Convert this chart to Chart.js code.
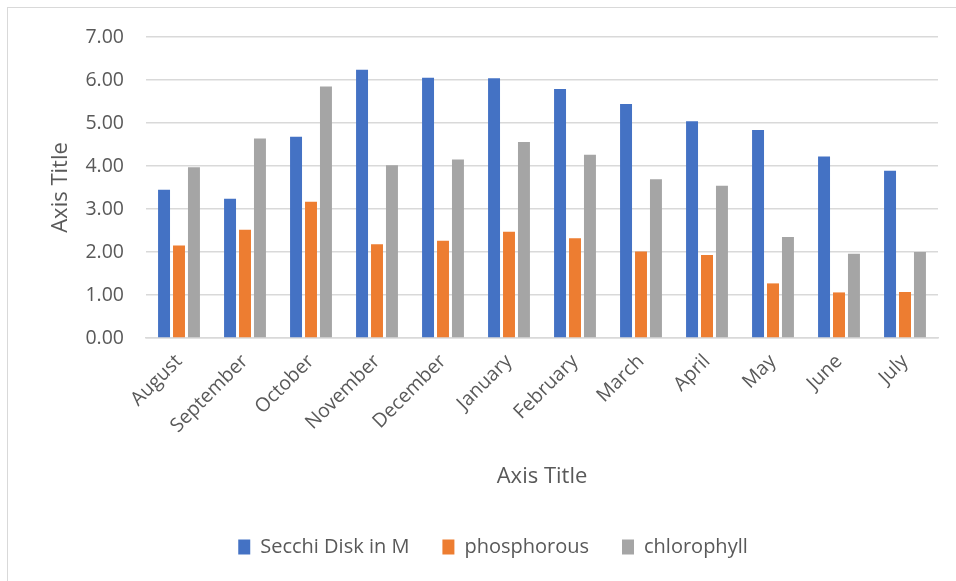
<!DOCTYPE html>
<html>
<head>
<meta charset="utf-8">
<script src="https://cdn.jsdelivr.net/npm/chart.js@4/dist/chart.umd.min.js"></script>
<style>
  html, body { margin: 0; padding: 0; background: #fff; }
  #wrap { position: relative; width: 956px; height: 581px; overflow: hidden; }
  #frame { position: absolute; left: 7px; top: 7px; width: 1000px; height: 700px; border: 1px solid #d9d9d9; box-sizing: border-box; }
  canvas { position: absolute; left: 0; top: 0; }
</style>
</head>
<body>
<div id="wrap">
  <div id="frame"></div>
  <canvas id="bar-chart" width="956" height="581"></canvas>
</div>
<script>
var months = ['August', 'September', 'October', 'November', 'December', 'January', 'February', 'March', 'April', 'May', 'June', 'July'];
var secchi = [3.45, 3.24, 4.68, 6.24, 6.05, 6.04, 5.79, 5.44, 5.04, 4.84, 4.22, 3.89];
var phosphorous = [2.15, 2.52, 3.17, 2.18, 2.26, 2.47, 2.32, 2.01, 1.93, 1.27, 1.06, 1.07];
var chlorophyll = [3.97, 4.64, 5.85, 4.02, 4.15, 4.56, 4.26, 3.69, 3.54, 2.35, 1.96, 2.00];

var font = "'Open Sans', 'Liberation Sans', sans-serif";
var grey = '#595959';

new Chart(document.getElementById('bar-chart'), {
  type: 'bar',
  data: {
    labels: months,
    datasets: [{
        label: 'Secchi Disk in M',
        data: secchi,
        backgroundColor: '#4472c4'
      }, {
        label: 'phosphorous',
        data: phosphorous,
        backgroundColor: '#ed7d31'
      }, {
        label: 'chlorophyll',
        data: chlorophyll,
        backgroundColor: '#a5a5a5'
      }]
  },
  options: {
    responsive: false,
    animation: false,
    datasets: {
      bar: { categoryPercentage: 0.68, barPercentage: 0.8 }
    },
    layout: {
      padding: { left: 48, right: 18, top: 37, bottom: 14 }
    },
    plugins: {
      legend: {
        position: 'bottom',
        labels: {
          color: grey,
          font: { family: font, size: 20 },
          boxWidth: 12,
          boxHeight: 15,
          padding: 33
        }
      },
      tooltip: { enabled: false }
    },
    scales: {
      x: {
        grid: { display: false },
        border: { display: true, color: '#d9d9d9', width: 1.5 },
        ticks: {
          color: grey,
          font: { family: font, size: 19.5 },
          minRotation: 45,
          maxRotation: 45,
          padding: 4
        },
        title: {
          display: true,
          text: 'Axis Title',
          color: grey,
          font: { family: font, size: 22 },
          padding: { top: 10, bottom: 14 }
        },
        afterFit: function(scale) { scale.height = 166; }
      },
      y: {
        min: 0,
        max: 7,
        ticks: {
          stepSize: 1,
          color: grey,
          font: { family: font, size: 19.5 },
          padding: 22,
          callback: function(v) { return v.toFixed(2); }
        },
        grid: { color: '#d9d9d9', lineWidth: 1.5, drawTicks: false },
        border: { display: false },
        title: {
          display: true,
          text: 'Axis Title',
          color: grey,
          font: { family: font, size: 22 },
          padding: { top: 0, bottom: 8 }
        },
        afterFit: function(scale) { scale.width = 98; }
      }
    }
  }
});
</script>
</body>
</html>
